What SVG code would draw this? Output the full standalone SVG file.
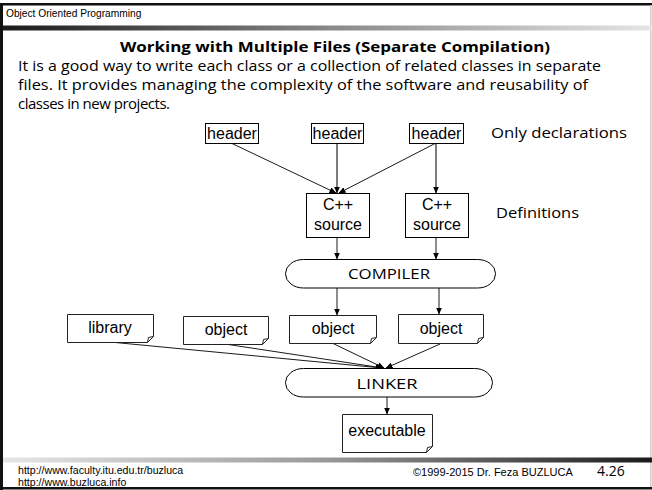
<svg xmlns="http://www.w3.org/2000/svg" width="652" height="490" viewBox="0 0 652 490">
<defs>
<linearGradient id="gTop" x1="0" y1="0" x2="1" y2="0"><stop offset="0" stop-color="#1a1a1a"/><stop offset="0.5" stop-color="#888"/><stop offset="1" stop-color="#e6e6e6"/></linearGradient>
<linearGradient id="gBot" x1="0" y1="0" x2="1" y2="0"><stop offset="0" stop-color="#e6e6e6"/><stop offset="0.5" stop-color="#999"/><stop offset="1" stop-color="#1a1a1a"/></linearGradient>
<marker id="ah" markerWidth="7" markerHeight="6" refX="6.5" refY="3" orient="auto" markerUnits="userSpaceOnUse"><path d="M0,0 L7,3 L0,6 Z" fill="#000"/></marker>
</defs>
<style>
.box{fill:#fff;stroke:#000;stroke-width:1}
.doc{fill:#fff;stroke:#222;stroke-width:1}
.ar{fill:none;stroke:#000;stroke-width:0.9;marker-end:url(#ah)}
.ar2{fill:none;stroke:#444;stroke-width:1.4;marker-end:url(#ah)}
.arial{font-family:"Liberation Sans",Arial,sans-serif;fill:#000}
.comic{font-family:"Open Sans","DejaVu Sans",sans-serif;fill:#000}
.node{font-size:16px;text-anchor:middle}
</style>
<rect width="652" height="490" fill="#fff"/>
<g id="frame">
<rect x="0" y="3" width="652" height="2.5" fill="#111"/>
<rect x="0" y="3" width="3" height="487" fill="#111"/>
<rect x="0" y="487" width="652" height="2.5" fill="#111"/>
<rect x="650" y="5" width="1.5" height="482" fill="#ccc"/>
<rect x="3" y="25.5" width="649" height="5" fill="url(#gTop)"/>
<rect x="3" y="457.5" width="649" height="5" fill="url(#gBot)"/>
<text class="arial" x="6" y="17" font-size="10.2">Object Oriented Programming</text>
<text class="arial" x="18" y="474" font-size="10.6">http://www.faculty.itu.edu.tr/buzluca</text>
<text class="arial" x="18" y="486" font-size="10.6">http://www.buzluca.info</text>
<text class="arial" x="413" y="476" font-size="11">©1999-2015  Dr. Feza BUZLUCA</text>
<text class="comic" x="597" y="476" font-size="14">4.26</text>
</g>
<g id="title">
<text class="comic" x="335" y="52" font-size="14.5" font-weight="bold" text-anchor="middle" textLength="430" lengthAdjust="spacingAndGlyphs">Working with Multiple Files (Separate Compilation)</text>
<text class="comic" x="18" y="71" font-size="15" textLength="583" lengthAdjust="spacingAndGlyphs">It is a good way to write each class or a collection of related classes in separate</text>
<text class="comic" x="18" y="90" font-size="15" textLength="570" lengthAdjust="spacingAndGlyphs">files. It provides managing the complexity of the software and reusability of</text>
<text class="comic" x="18" y="109" font-size="15" textLength="152" lengthAdjust="spacing">classes in new projects.</text>
<text class="comic" x="491" y="138" font-size="15" textLength="136" lengthAdjust="spacingAndGlyphs">Only declarations</text>
<text class="comic" x="496" y="218" font-size="15" textLength="83" lengthAdjust="spacingAndGlyphs">Definitions</text>
</g>
<g id="connectors">
<line class="ar" x1="231" y1="143" x2="336" y2="193"/>
<line class="ar2" x1="337" y1="143" x2="337" y2="193"/>
<line class="ar" x1="436" y1="143" x2="339" y2="193"/>
<line class="ar2" x1="436" y1="143" x2="436" y2="193"/>
<line class="ar" x1="337" y1="237" x2="337" y2="259"/>
<line class="ar" x1="436" y1="237" x2="436" y2="259"/>
<line class="ar" x1="337" y1="288" x2="337" y2="315"/>
<line class="ar" x1="439" y1="288" x2="439" y2="314"/>
<line class="ar" x1="110" y1="342" x2="382" y2="368"/>
<line class="ar" x1="225" y1="344" x2="383" y2="368"/>
<line class="ar" x1="332" y1="343" x2="384" y2="368"/>
<line class="ar" x1="440" y1="344" x2="386" y2="368"/>
<line class="ar" x1="387" y1="397" x2="387" y2="414"/>
</g>
<g id="header1"><rect class="box" x="205.5" y="123.5" width="53" height="20"/><text class="arial node" x="232" y="139">header</text></g>
<g id="header2"><rect class="box" x="311.5" y="123.5" width="52" height="20"/><text class="arial node" x="337.5" y="139">header</text></g>
<g id="header3"><rect class="box" x="409.5" y="123.5" width="54" height="20"/><text class="arial node" x="436.5" y="139">header</text></g>
<g id="source1"><rect class="box" x="306.5" y="193.5" width="63" height="44"/><text class="arial node" x="338" y="210">C++</text><text class="arial node" x="338" y="230">source</text></g>
<g id="source2"><rect class="box" x="405.5" y="193.5" width="63" height="44"/><text class="arial node" x="437" y="210">C++</text><text class="arial node" x="437" y="230">source</text></g>
<g id="compiler"><rect class="box" x="285.5" y="259.5" width="210" height="28.5" rx="18" ry="14"/><text class="comic" x="389" y="279" font-size="15" text-anchor="middle" textLength="82" lengthAdjust="spacingAndGlyphs">COMPILER</text></g>
<g id="library"><path class="doc" d="M67.5,314.5 H153.5 V336.5 L147.5,342.5 H67.5 Z M147.5,342.5 L148.5,337.5 L153.5,336.5"/><text class="arial node" x="110" y="333">library</text></g>
<g id="object1"><path class="doc" d="M183.5,316.5 H268.5 V338.5 L262.5,344.5 H183.5 Z M262.5,344.5 L263.5,339.5 L268.5,338.5"/><text class="arial node" x="226" y="335">object</text></g>
<g id="object2"><path class="doc" d="M289.5,315.5 H376.5 V337.5 L370.5,343.5 H289.5 Z M370.5,343.5 L371.5,338.5 L376.5,337.5"/><text class="arial node" x="333" y="334">object</text></g>
<g id="object3"><path class="doc" d="M398.5,314.5 H483.5 V337.5 L477.5,343.5 H398.5 Z M477.5,343.5 L478.5,338.5 L483.5,337.5"/><text class="arial node" x="441" y="334">object</text></g>
<g id="linker"><rect class="box" x="285.5" y="368.5" width="207" height="28.5" rx="18" ry="14"/><text class="comic" x="387" y="389" font-size="15" text-anchor="middle" textLength="61" lengthAdjust="spacingAndGlyphs">LINKER</text></g>
<g id="executable"><path class="doc" d="M342.5,414.5 H432.5 V446.5 L426.5,452.5 H342.5 Z M426.5,452.5 L427.5,447.5 L432.5,446.5"/><text class="arial node" x="387" y="436">executable</text></g>
</svg>
